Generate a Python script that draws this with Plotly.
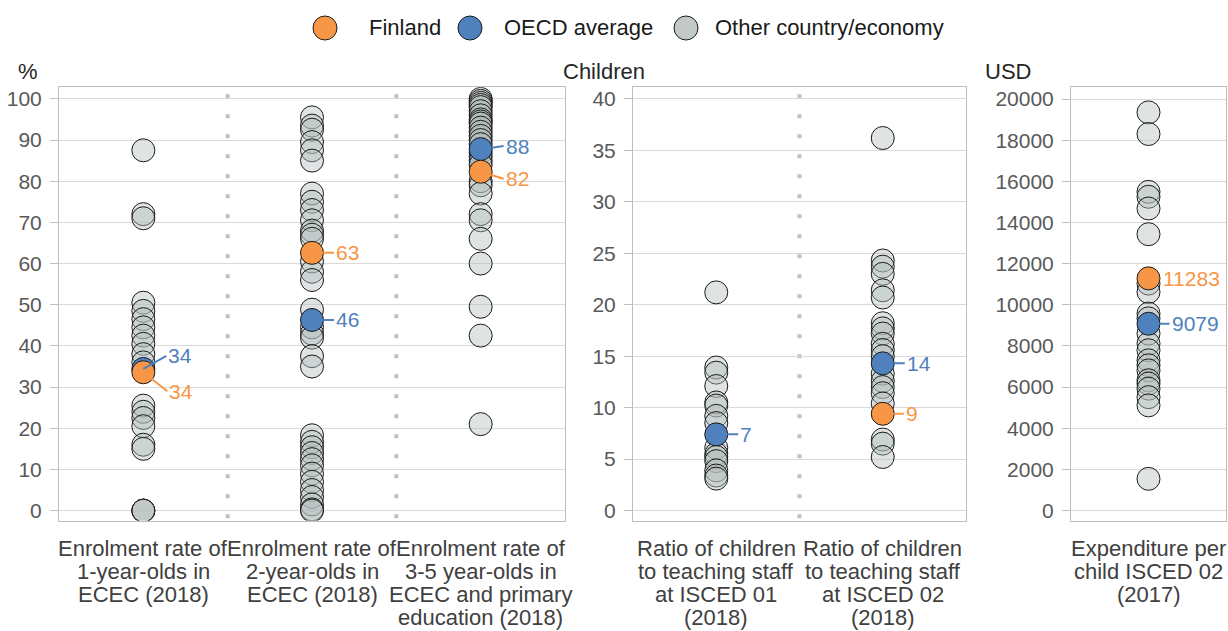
import plotly.graph_objects as go

W, H = 1228, 631

# ---------------- data ----------------
enrol_labels = ["Enrolment rate of\n1-year-olds in\nECEC (2018)",
                "Enrolment rate of\n2-year-olds in\nECEC (2018)",
                "Enrolment rate of\n3-5 year-olds in\nECEC and primary\neducation (2018)"]
ratio_labels = ["Ratio of children\nto teaching staff\nat ISCED 01\n(2018)",
                "Ratio of children\nto teaching staff\nat ISCED 02\n(2018)"]
exp_labels = ["Expenditure per\nchild ISCED 02\n(2017)"]
unit_titles = ["%", "Children", "USD"]
legend_names = ["Finland", "OECD average", "Other country/economy"]

other_enrol_1yo = [87.5, 72.0, 71.0, 50.5, 48.5, 46.5, 44.5, 42.5, 40.5, 38.0, 36.0,
                   25.5, 24.0, 22.5, 20.5, 16.0, 15.0, 0.0, 0.0, 0.0]
other_enrol_2yo = [95.5, 93.5, 92.5, 89.5, 87.5, 85.0, 77.0, 75.0, 73.0, 70.5, 68.0, 67.0,
                   66.0, 60.5, 58.0, 56.0, 48.8, 44.5, 43.0, 42.0, 37.5, 35.0,
                   18.3, 16.7, 15.4, 14.0, 12.5, 11.0, 9.0, 7.0, 5.0, 3.3, 1.5, 0.3, 0.0]
other_enrol_3to5 = [100, 99.5, 99, 98.5, 98, 97, 96, 95, 94.5, 94, 93, 92, 91, 90, 89,
                    87, 86, 85, 84, 80, 79, 77, 72, 70.5, 66, 60, 49.5, 42.5, 21]
other_ratio_01 = [21.2, 13.9, 13.4, 12.1, 10.5, 10.2, 9.2, 8.5, 6.1, 5.5, 5.2, 4.8, 3.9, 3.4, 3.1]
other_ratio_02 = [36.2, 24.3, 23.7, 23.0, 21.4, 20.7, 18.2, 17.7, 17.2, 16.2, 15.6, 15.0,
                  13.3, 12.6, 12.0, 11.4, 10.4, 6.9, 6.5, 5.2]
other_exp_02 = [19350, 18300, 15490, 15250, 14680, 13430, 11030, 10620, 9570, 9340, 8600,
                8110, 7790, 7300, 7060, 6810, 6330, 6170, 5920, 5510, 5110, 1540]

finland_enrol = [33.6, 62.6, 82.3]
oecd_enrol = [34.4, 46.3, 87.8]
finland_ratio = [None, 9.4]
oecd_ratio = [7.4, 14.3]
finland_exp = [11283]
oecd_exp = [9079]

# ---------------- style ----------------
FONT = "Liberation Sans, Arial, sans-serif"
C_FIN = "#F79646"
C_OECD = "#4F81BD"
C_OTH = "rgba(178,188,188,0.42)"
C_OTH_LEG = "#c3c9c9"
EDGE = "#1a1a1a"
MS = 23

panels = [
    dict(ax="x", ay="y", labels=enrol_labels,
         others=[other_enrol_1yo, other_enrol_2yo, other_enrol_3to5],
         fin=finland_enrol, oecd=oecd_enrol),
    dict(ax="x2", ay="y2", labels=ratio_labels,
         others=[other_ratio_01, other_ratio_02],
         fin=finland_ratio, oecd=oecd_ratio),
    dict(ax="x3", ay="y3", labels=exp_labels,
         others=[other_exp_02],
         fin=finland_exp, oecd=oecd_exp),
]

fig = go.Figure()

for pi, p in enumerate(panels):
    xs, ys = [], []
    for ci, vals in enumerate(p["others"]):
        xs += [ci] * len(vals)
        ys += vals
    fig.add_trace(go.Scatter(
        x=xs, y=ys, mode="markers", name=legend_names[2], showlegend=False,
        marker=dict(size=MS, color=C_OTH, line=dict(color=EDGE, width=1)),
        xaxis=p["ax"], yaxis=p["ay"], hoverinfo="y"))
    ox = [i for i, v in enumerate(p["oecd"]) if v is not None]
    oy = [v for v in p["oecd"] if v is not None]
    fig.add_trace(go.Scatter(
        x=ox, y=oy, mode="markers", name=legend_names[1], showlegend=False,
        marker=dict(size=MS, color=C_OECD, line=dict(color=EDGE, width=1)),
        xaxis=p["ax"], yaxis=p["ay"], hoverinfo="y"))
    fx = [i for i, v in enumerate(p["fin"]) if v is not None]
    fy = [v for v in p["fin"] if v is not None]
    fig.add_trace(go.Scatter(
        x=fx, y=fy, mode="markers", name=legend_names[0], showlegend=False,
        marker=dict(size=MS, color=C_FIN, line=dict(color=EDGE, width=1)),
        xaxis=p["ax"], yaxis=p["ay"], hoverinfo="y"))

annotations = []
shapes = []

# ---------------- value labels ----------------
# (panel, category, series, ax, ay, standoff, showarrow)
label_specs = [
    (0, 0, "oecd", 23, -13, 0, True),
    (0, 0, "fin", 24, 19, 10, True),
    (0, 1, "fin", 22, 0, 11, True),
    (0, 1, "oecd", 22, 0, 11, True),
    (0, 2, "oecd", 23, -3, 11, True),
    (0, 2, "fin", 23, 7, 11, True),
    (1, 0, "oecd", 22, 0, 11, True),
    (1, 1, "oecd", 22, 0, 11, True),
    (1, 1, "fin", 21, 0, 11, True),
    (2, 0, "fin", 12, 0, 0, False),
    (2, 0, "oecd", 21, 0, 11, True),
]
for pi, ci, s, dx, dy, so, arrow in label_specs:
    p = panels[pi]
    v = p[s][ci]
    col = C_FIN if s == "fin" else C_OECD
    a = dict(x=ci, y=v, xref=p["ax"], yref=p["ay"], text=f"{round(v)}",
             font=dict(size=21, color=col, family=FONT),
             xanchor="left", yanchor="middle")
    if arrow:
        a.update(showarrow=True, ax=dx, ay=dy, axref="pixel", ayref="pixel",
                 arrowhead=0, arrowwidth=2, arrowcolor=col, standoff=so)
    else:
        a.update(showarrow=False, xshift=dx)
    annotations.append(a)

# ---------------- category labels (tight line spacing) ----------------
for p in panels:
    for ci, lab in enumerate(p["labels"]):
        for k, line in enumerate(lab.split("\n")):
            annotations.append(dict(
                x=ci, xref=p["ax"], y=1 - (548 + 23 * k) / H, yref="paper",
                text=line, showarrow=False, xanchor="center", yanchor="middle",
                font=dict(size=22, color="#404040", family=FONT)))

# ---------------- unit titles ----------------
for txt, xp in zip(unit_titles, [28, 604, 1008]):
    annotations.append(dict(x=xp / W, y=1 - 72 / H, xref="paper", yref="paper",
                            text=txt, showarrow=False, xanchor="center", yanchor="middle",
                            font=dict(size=22, color="#262626", family=FONT)))

# ---------------- legend (circles + text) ----------------
leg_cols = [C_FIN, C_OECD, C_OTH_LEG]
leg_circle_x = [325, 470, 686]
leg_text_x = [367, 502, 713]
ly = 1 - 28 / H
for name, col, cx, tx in zip(legend_names, leg_cols, leg_circle_x, leg_text_x):
    shapes.append(dict(type="circle", xref="paper", yref="paper",
                       xsizemode="pixel", ysizemode="pixel",
                       xanchor=cx / W, yanchor=ly, x0=-12, x1=12, y0=-12, y1=12,
                       fillcolor=col, line=dict(color=EDGE, width=1)))
    annotations.append(dict(x=tx / W, y=ly, xref="paper", yref="paper", text=name,
                            showarrow=False, xanchor="left", yanchor="middle",
                            font=dict(size=22, color="#1a1a1a", family=FONT)))

# ---------------- separators ----------------
for p in panels:
    for k in range(len(p["labels"]) - 1):
        shapes.append(dict(type="line", xref=p["ax"], yref=p["ay"] + " domain",
                           x0=k + 0.5, x1=k + 0.5, y0=0.005, y1=0.995, layer="below",
                           line=dict(color="#c0c0c0", width=4, dash="4px,16px")))

# ---------------- layout ----------------
ydom = [1 - 520.5 / H, 1 - 87.3 / H]
xdoms = [[59 / W, 565 / W], [633 / W, 966 / W], [1071 / W, 1226 / W]]
yranges = [[-2.4, 102.8], [-0.97, 41.13], [-486, 20570]]
dticks = [10, 5, 2000]

layout = dict(
    width=W, height=H, autosize=False,
    margin=dict(l=0, r=0, t=0, b=0),
    paper_bgcolor="white", plot_bgcolor="white",
    font=dict(family=FONT, size=18, color="#262626"),
    showlegend=False,
    annotations=annotations, shapes=shapes,
)
for i, p in enumerate(panels):
    sx = "" if i == 0 else str(i + 1)
    layout["xaxis" + sx] = dict(
        domain=xdoms[i], anchor="y" + sx, range=[-0.5, len(p["labels"]) - 0.5],
        showticklabels=False, showgrid=False, zeroline=False, showline=True, mirror=True,
        linecolor="#bfbfbf", linewidth=1, ticks="", automargin=False, fixedrange=True)
    layout["yaxis" + sx] = dict(
        domain=ydom, anchor="x" + sx, range=yranges[i], dtick=dticks[i], tick0=0,
        tickformat="d",
        showgrid=True, gridcolor="#dadada", gridwidth=1, zeroline=False,
        showline=True, mirror=True, linecolor="#bfbfbf", linewidth=1,
        ticks="outside", ticklen=8, tickcolor="#bfbfbf", automargin=False,
        ticklabelstandoff=4,
        tickfont=dict(size=21, color="#595959", family=FONT), fixedrange=True)

fig.update_layout(**layout)
fig.write_html("out.html", config={"displayModeBar": False},
               post_script="document.body.style.margin='0';")
